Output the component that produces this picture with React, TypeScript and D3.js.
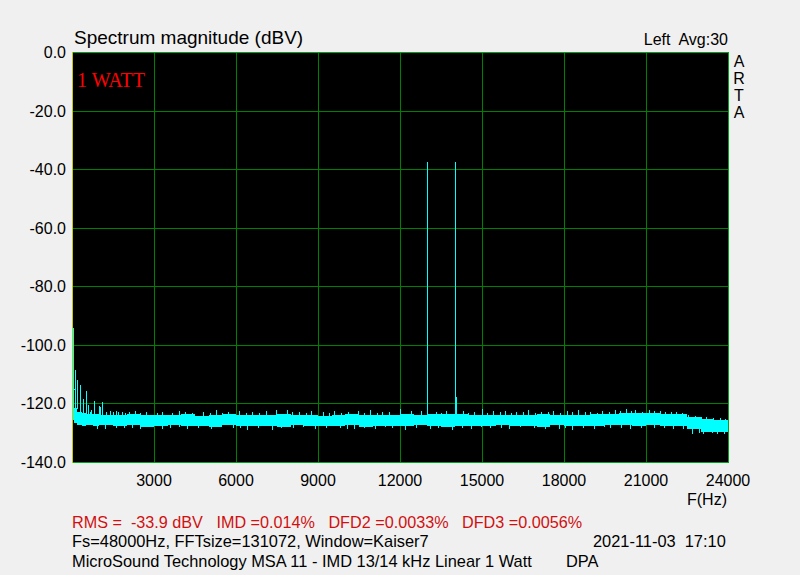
import React from "react";
import * as d3 from "d3";

// ---- Data ----
const xTicks = [3000, 6000, 9000, 12000, 15000, 18000, 21000, 24000];
const yTicks = [0, -20, -40, -60, -80, -100, -120, -140];

// Dense noise floor band (upper / lower edge), dBV
const noiseFreq = [0, 80, 200, 350, 500, 750, 1000, 1500, 2000, 2500, 3000, 3500, 4000, 4500, 5000, 5500, 6000, 6500, 7000, 7500, 8000, 8500, 9000, 9500, 10000, 10500, 11000, 11500, 12000, 12500, 13000, 13500, 14000, 14500, 15000, 15500, 16000, 16500, 17000, 17500, 18000, 18500, 19000, 19500, 20000, 20500, 21000, 21500, 22000, 22500, 23000, 23500, 24000];
const noiseTop = [-115, -121.5, -122.8, -123.2, -123.5, -123.6, -123.9, -124.0, -123.7, -124.1, -123.8, -124.0, -123.6, -124.2, -123.9, -123.7, -124.1, -123.8, -123.9, -123.6, -124.0, -123.9, -124.2, -123.8, -123.7, -124.0, -123.9, -123.8, -123.6, -123.9, -123.7, -123.6, -123.5, -123.8, -124.0, -123.9, -123.8, -124.1, -123.7, -124.0, -123.8, -123.9, -123.7, -123.5, -123.4, -123.3, -123.4, -123.5, -123.6, -124.6, -125.3, -125.8, -126.0];
const noiseBottom = [-125.5, -126.8, -127.3, -127.6, -127.4, -127.8, -127.5, -127.7, -127.4, -127.9, -127.6, -127.5, -127.8, -127.6, -127.9, -127.5, -127.7, -127.8, -127.6, -127.9, -127.5, -127.7, -127.6, -127.8, -127.5, -127.9, -127.6, -127.7, -127.8, -127.5, -127.6, -127.9, -127.7, -127.6, -127.8, -127.5, -127.7, -127.6, -127.9, -127.5, -127.7, -127.6, -127.8, -127.5, -127.4, -127.6, -127.5, -127.7, -127.8, -128.9, -129.6, -129.9, -130.0];

// Discrete tones and harmonics (upward spikes)
const toneFreq = [13000, 14000];
const toneLevel = [-37.6, -37.6];
const spikeFreq = [20, 60, 110, 195, 305, 403, 500, 520, 598, 650, 708, 818, 989, 1010, 1111, 1250, 1404, 1500, 1624, 1697, 1820, 1950, 2088, 2300, 2500, 2700, 3100, 3300, 3650, 3900, 4150, 4400, 4800, 5050, 5250, 5500, 5700, 6100, 6350, 6600, 6850, 7100, 7450, 7850, 8050, 8300, 8550, 8750, 9200, 9400, 9600, 9850, 10100, 10450, 10700, 10900, 11150, 11350, 11600, 11983, 12400, 12750, 13300, 13500, 13700, 14050, 14300, 14500, 14700, 15000, 15200, 15400, 15650, 15850, 16050, 16250, 16500, 16700, 16950, 17150, 17400, 17600, 17850, 18100, 18300, 18500, 18750, 18950, 19200, 19400, 19650, 19850, 20050, 20250, 20450, 20600, 20850, 21100, 21300, 21500, 21700, 21900, 22100, 22300, 22550, 22800, 23000, 23200, 23450, 23700, 23900];
const spikeLevel = [-94.1, -115, -108.6, -112, -113.7, -118.5, -115.8, -116, -120.5, -123, -122.3, -119.2, -121, -121.2, -119.6, -122.9, -122.5, -122.9, -122.7, -122.8, -122.8, -123.1, -123.0, -122.6, -123.2, -123, -123.1, -122.9, -123.2, -122.5, -123.0, -123.1, -122.8, -123.2, -122.4, -123.1, -123, -122.7, -123.1, -122.9, -123.2, -122.5, -122.2, -122.3, -123.0, -122.8, -123.1, -122.6, -122.9, -123.1, -122.5, -123.2, -122.8, -122.7, -123.1, -122.4, -123.2, -122.9, -123.0, -121.9, -122.7, -122.6, -122.8, -123.1, -122.6, -117.8, -122.6, -123.1, -122.9, -121.8, -123.2, -122.7, -123.0, -122.5, -123.1, -122.8, -123.0, -122.4, -123.1, -122.9, -123.0, -122.5, -123.1, -122.7, -122.9, -122.3, -123.0, -122.8, -123.1, -122.5, -122.9, -122.2, -122.7, -122.0, -122.6, -122.3, -122.8, -122.4, -122.7, -122.6, -122.9, -122.8, -123.0, -123.2, -123.9, -124.3, -124.8, -124.6, -125.0, -125.1, -125.3];
// Downward dips below the band
const dipFreq = [900, 1200, 1600, 1900, 2200, 2500, 2900, 3300, 3600, 3900, 4200, 4600, 5100, 5400, 5900, 6150, 6400, 6800, 7300, 7650, 8100, 8450, 8900, 9300, 9800, 10050, 10300, 10700, 11100, 11450, 11700, 12200, 12600, 13100, 13400, 13900, 14250, 14600, 14950, 15300, 15700, 16000, 16400, 16900, 17300, 17800, 18050, 18300, 18700, 19100, 19450, 19700, 20100, 20400, 20800, 21300, 21650, 22000, 22350, 22700, 22950, 23100, 23400, 23600, 23850];
const dipLevel = [-128.6, -128.9, -128.3, -128.5, -128.4, -128.7, -128.2, -128.6, -128.4, -128.2, -128.8, -128.3, -128.6, -128.2, -128.3, -128.5, -129.0, -128.4, -129.1, -128.3, -128.5, -128.2, -128.7, -128.3, -128.4, -128.6, -128.9, -128.3, -128.6, -128.2, -128.3, -129.0, -128.4, -128.6, -128.3, -129.1, -128.4, -128.7, -128.2, -128.5, -128.3, -128.8, -128.2, -128.4, -128.6, -128.7, -128.3, -129.0, -128.4, -128.6, -128.2, -128.3, -128.5, -128.6, -128.3, -128.5, -128.4, -128.7, -128.6, -130.3, -130.1, -130.5, -130.2, -130.4, -130.3];

// ---- Layout ----
const W = 800, H = 575;
const L = 72, R = 728, T = 52, B = 462;
const FONT = "'Liberation Sans', Arial, sans-serif";

export default function App() {
  const x = d3.scaleLinear().domain([0, 24000]).range([L, R]);
  const y = d3.scaleLinear().domain([0, -140]).range([T, B]);
  const px = (f: number) => Math.round(x(f)) + 0.5;

  const band = noiseFreq.map((f, i) => ({ f, top: noiseTop[i], bot: noiseBottom[i] }));
  const area = d3
    .area<{ f: number; top: number; bot: number }>()
    .x((d) => x(d.f))
    .y0((d) => y(d.bot))
    .y1((d) => y(d.top))
    .curve(d3.curveStepAfter);

  const topAt = (f: number) => {
    const i = Math.max(0, d3.bisectRight(noiseFreq, f) - 1);
    return noiseTop[i];
  };
  const botAt = (f: number) => {
    const i = Math.max(0, d3.bisectRight(noiseFreq, f) - 1);
    return noiseBottom[i];
  };

  const cyan = "#00ffff";

  return (
    <svg width={W} height={H} style={{ position: "fixed", left: 0, top: 0, background: "#f0f0f0" }} fontFamily={FONT}>
      <rect x={0} y={0} width={W} height={H} fill="#f0f0f0" />
      <rect x={L} y={T} width={R - L} height={B - T} fill="#000" />
      {/* grid */}
      <g shapeRendering="crispEdges" stroke="#008000" strokeWidth={1}>
        {xTicks.slice(0, -1).map((t) => (
          <line key={"gx" + t} x1={px(t)} x2={px(t)} y1={T} y2={B} />
        ))}
        {yTicks.slice(1, -1).map((t) => (
          <line key={"gy" + t} x1={L} x2={R} y1={Math.round(y(t)) + 0.5} y2={Math.round(y(t)) + 0.5} />
        ))}
      </g>
      {/* spectrum */}
      <g shapeRendering="crispEdges">
        <path d={area(band) || ""} fill={cyan} />
        {spikeFreq.map((f, i) => (
          <line key={"s" + i} x1={px(f)} x2={px(f)} y1={y(topAt(f)) + 1} y2={y(spikeLevel[i])} stroke={cyan} strokeWidth={1} />
        ))}
        {dipFreq.map((f, i) => (
          <line key={"d" + i} x1={px(f)} x2={px(f)} y1={y(botAt(f)) - 1} y2={y(dipLevel[i])} stroke={cyan} strokeWidth={1} />
        ))}
        {toneFreq.map((f, i) => (
          <line key={"t" + i} x1={px(f)} x2={px(f)} y1={y(topAt(f)) + 1} y2={y(toneLevel[i])} stroke={cyan} strokeWidth={1} />
        ))}
      </g>
      {/* borders */}
      <g shapeRendering="crispEdges" strokeWidth={1} fill="none">
        <line x1={L} x2={R + 1} y1={T + 0.5} y2={T + 0.5} stroke="#00a020" />
        <line x1={L} x2={R + 1} y1={B + 0.5} y2={B + 0.5} stroke="#00a020" />
        <line x1={R + 0.5} x2={R + 0.5} y1={T} y2={B + 1} stroke="#00a020" />
        <line x1={L + 0.5} x2={L + 0.5} y1={T} y2={B + 1} stroke="#c8c800" />
      </g>
      {/* y ticks */}
      <g fontSize={16} fill="#000" textAnchor="end">
        {yTicks.map((t) => (
          <text key={"yl" + t} x={66} y={y(t) + 6}>
            {t.toFixed(1)}
          </text>
        ))}
      </g>
      {/* x ticks */}
      <g fontSize={16} fill="#000" textAnchor="middle">
        {xTicks.map((t) => (
          <text key={"xl" + t} x={x(t)} y={486}>
            {t}
          </text>
        ))}
      </g>
      <text x={727} y={505} fontSize={16} textAnchor="end">F(Hz)</text>
      {/* titles */}
      <text x={74} y={44} fontSize={19}>Spectrum magnitude (dBV)</text>
      <text x={728} y={45} fontSize={16} textAnchor="end" style={{ whiteSpace: "pre" }}>{"Left  Avg:30"}</text>
      <g fontSize={16} textAnchor="middle">
        {["A", "R", "T", "A"].map((c, i) => (
          <text key={"arta" + i} x={739} y={67 + i * 17}>
            {c}
          </text>
        ))}
      </g>
      <text x={77} y={87} fontSize={20} fill="#ff0000" fontFamily="'Liberation Serif', 'Times New Roman', serif">1 WATT</text>
      {/* footer */}
      <text x={72} y={528} fontSize={16.2} fill="#d01010" style={{ whiteSpace: "pre" }}>
        {"RMS =  -33.9 dBV   IMD =0.014%   DFD2 =0.0033%   DFD3 =0.0056%"}
      </text>
      <text x={72} y={547} fontSize={16.4} fill="#000">Fs=48000Hz, FFTsize=131072, Window=Kaiser7</text>
      <text x={593} y={547} fontSize={16.4} fill="#000" style={{ whiteSpace: "pre" }}>{"2021-11-03  17:10"}</text>
      <text x={72} y={567} fontSize={16.4} fill="#000">MicroSound Technology MSA 11 - IMD 13/14 kHz Linear 1 Watt</text>
      <text x={566} y={567} fontSize={16.4} fill="#000">DPA</text>
    </svg>
  );
}
